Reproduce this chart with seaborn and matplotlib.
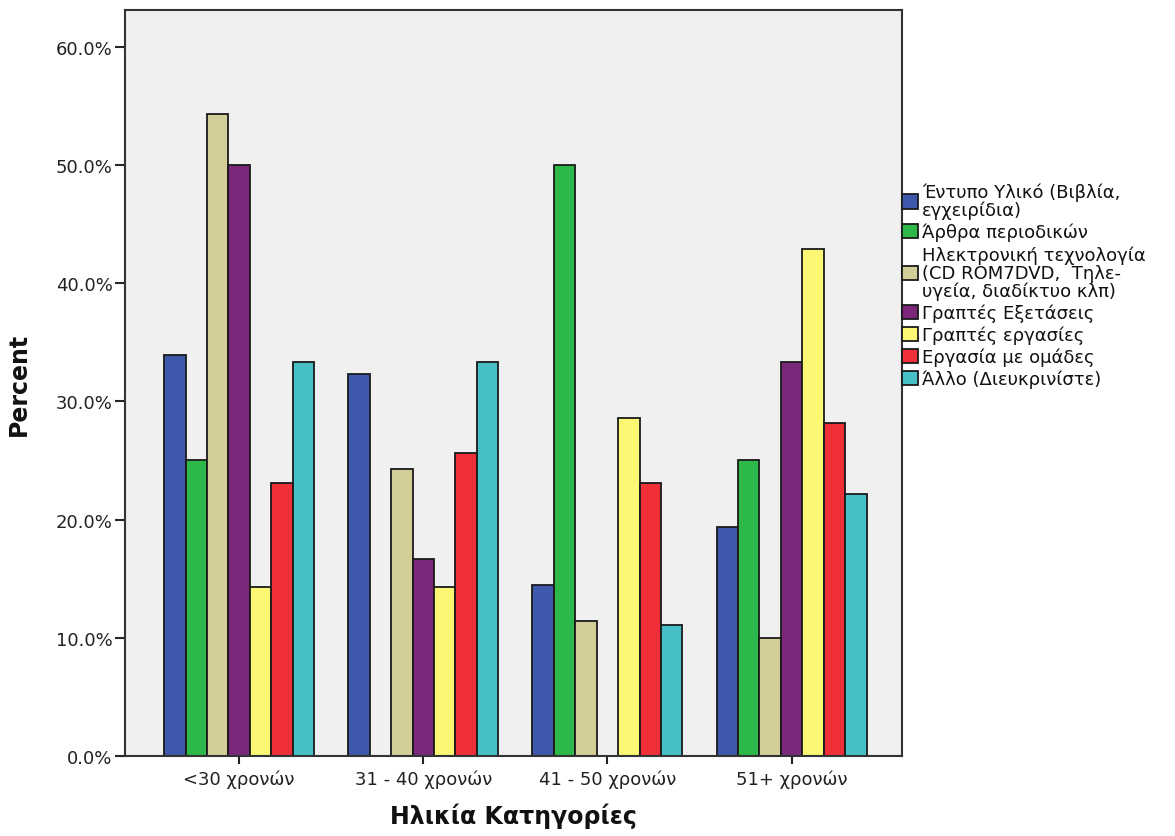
import numpy as np
import pandas as pd
import matplotlib
matplotlib.use("Agg")
import matplotlib.pyplot as plt
import seaborn as sns

# Ηλικιακές κατηγορίες (άξονας x)
age_groups = ["<30 χρονών", "31 - 40 χρονών", "41 - 50 χρονών", "51+ χρονών"]

# Κατηγορίες μεθόδων (legend)
methods = [
    "Έντυπο Υλικό (Βιβλία,\nεγχειρίδια)",
    "Άρθρα περιοδικών",
    "Ηλεκτρονική τεχνολογία\n(CD ROM7DVD,  Τηλε-\nυγεία, διαδίκτυο κλπ)",
    "Γραπτές Εξετάσεις",
    "Γραπτές εργασίες",
    "Εργασία με ομάδες",
    "Άλλο (Διευκρινίστε)",
]

# Ποσοστά ανά μέθοδο, με σειρά age_groups
entypo = [33.9, 32.3, 14.5, 19.4]
arthra = [25.0, 0.0, 50.0, 25.0]
ilektroniki = [54.3, 24.3, 11.4, 10.0]
exetaseis = [50.0, 16.7, 0.0, 33.3]
ergasies = [14.3, 14.3, 28.6, 42.9]
omades = [23.1, 25.6, 23.1, 28.2]
allo = [33.3, 33.3, 11.1, 22.2]

colors = ["#3E58AC", "#2DB84A", "#D3CE97", "#7B287A", "#FBF674", "#EF3038", "#46C0C6"]

series = [entypo, arthra, ilektroniki, exetaseis, ergasies, omades, allo]
rows = []
for m, vals in zip(methods, series):
    for g, v in zip(age_groups, vals):
        rows.append({"age": g, "method": m, "pct": v})
df = pd.DataFrame(rows)

sns.set_style("ticks")
plt.rcParams["font.family"] = ["DejaVu Sans"]

fig = plt.figure(figsize=(11.75, 8.37), dpi=100)
ax = fig.add_axes([0.1064, 0.0956, 0.6613, 0.8913])
ax.set_facecolor("#F0F0F0")

sns.barplot(data=df, x="age", y="pct", hue="method", order=age_groups,
            hue_order=methods, palette=colors, saturation=1, width=0.815,
            edgecolor="#1a1a1a", linewidth=1.3, ax=ax)

ax.set_xlim(-0.62, 3.60)
ax.set_ylim(0, 63.1)
ax.set_yticks([0, 10, 20, 30, 40, 50, 60])
ax.set_yticklabels([f"{t:.1f}%" for t in [0, 10, 20, 30, 40, 50, 60]], fontsize=13, color="#222222")
ax.tick_params(axis="x", labelsize=13, length=6, width=1.5, colors="#222222", pad=4)
ax.tick_params(axis="y", length=7, width=1.5, pad=2)
for s in ax.spines.values():
    s.set_linewidth(1.5)
    s.set_color("#333333")

ax.set_xlabel("Ηλικία Κατηγορίες", fontsize=17, fontweight="bold", labelpad=10, color="#111111")
ax.set_ylabel("Percent", fontsize=17, fontweight="bold", labelpad=18, color="#111111")

handles, labels = ax.get_legend_handles_labels()
ax.legend_.remove()
leg = fig.legend(handles, labels, loc="upper left", bbox_to_anchor=(0.768, 0.781),
                 frameon=False, fontsize=13, handlelength=0.85, handleheight=0.85,
                 handletextpad=0.25, labelspacing=0.2, borderaxespad=0, borderpad=0)
for t in leg.get_texts():
    t.set_linespacing(1.0)
    t.set_color("#111111")

fig.savefig("out.png", dpi=100)
